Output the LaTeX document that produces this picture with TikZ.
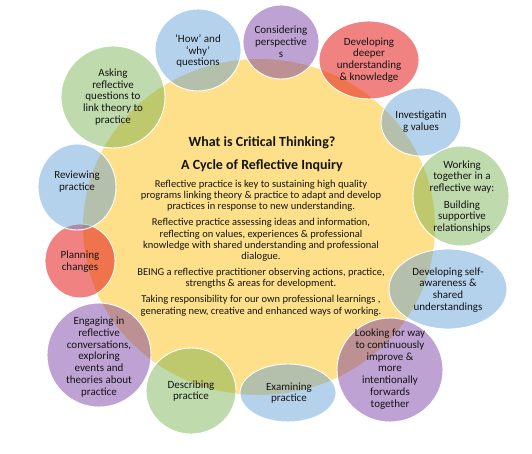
\documentclass[tikz,border=0pt]{standalone}
\usepackage{fontspec}
\setmainfont{Carlito}
\usetikzlibrary{positioning}
\definecolor{ink}    {HTML}{141414}
\definecolor{sun}    {HTML}{FEE08B}
\definecolor{sky}    {HTML}{5B9BD5}
\definecolor{leaf}   {HTML}{70AD47}
\definecolor{plum}   {HTML}{7030A0}
\definecolor{rose}   {HTML}{E31C1C}
\tikzset{
  bub/.style      ={draw=white, line width=0.9pt, fill=#1, fill opacity=0.45},
  redbub/.style   ={bub=rose, fill opacity=0.55},
  lbl/.style      ={align=center, text=ink, inner sep=0pt,
                    font=\fontsize{11}{11.8}\selectfont},
  heading/.style  ={align=center, text=ink, inner sep=0pt,
                    font=\bfseries\fontsize{14}{23}\selectfont},
  body/.style     ={align=center, text=ink, inner sep=0pt,
                    font=\fontsize{10.5}{11.3}\selectfont},
}

\begin{document}
\begin{tikzpicture}[x=1pt,y=-1pt]
  \useasboundingbox (0,0) rectangle (532,454);
  % the central disc
  \fill[sun] (259,227) ellipse [x radius=176, y radius=168];

  % bubbles round the disc
  \filldraw[bub=sky]  (198,50)  ellipse [x radius=43, y radius=41];
  \filldraw[bub=plum] (281,42)  ellipse [x radius=38, y radius=37];
  \filldraw[redbub]   (369,60)  ellipse [x radius=50, y radius=39];
  \filldraw[bub=sky]  (421,122) ellipse [x radius=40, y radius=34];
  \filldraw[bub=leaf] (461,196) ellipse [x radius=48, y radius=50];
  \filldraw[bub=sky]  (448,289) ellipse [x radius=59, y radius=40];
  \filldraw[bub=plum] (390,370) ellipse [x radius=53, y radius=52];
  \filldraw[bub=sky]  (288,393) ellipse [x radius=48, y radius=29];
  \filldraw[bub=leaf] (191,391) ellipse [x radius=45, y radius=43];
  \filldraw[bub=plum] (99,355)  ellipse [x radius=52, y radius=52];
  \filldraw[redbub]   (80,261)  ellipse [x radius=35, y radius=37];
  \filldraw[bub=sky]  (77,187)  ellipse [x radius=39, y radius=43];
  \filldraw[bub=leaf] (113,97)  ellipse [x radius=52, y radius=51];

  % texts
  \node[heading] (title) at (262,154)
    {What is Critical Thinking?\\A Cycle of Reflective Inquiry};
  \node[body] (core) at (261,248)
    {Reflective practice is key to sustaining high quality\\
     programs linking theory \& practice to adapt and develop\\
     practices in response to new understanding.\\[4.7pt]
     Reflective practice assessing ideas and information,\\
     reflecting on values, experiences \& professional\\
     knowledge with shared understanding and professional\\
     dialogue.\\[4.7pt]
     BEING a reflective practitioner observing actions, practice,\\
     strengths \& areas for development.\\[4.7pt]
     Taking responsibility for our own professional learnings ,\\
     generating new, creative and enhanced ways of working.};

  \node[lbl] (howwhy)   at (198,51)  {‘How’ and\\‘why’\\questions};
  \node[lbl] (consider) at (281,42)  {Considering\\perspective\\s};
  \node[lbl] (deeper)   at (369,60)  {Developing\\deeper\\understanding\\\& knowledge};
  \node[lbl] (values)   at (421,122) {Investigatin\\g values};
  \node[lbl] (together) at (462,197)
    {Working\\together in a\\reflective way:\\[4.5pt]Building\\supportive\\relationships};
  \node[lbl] (selfaware) at (448,290)
    {Developing self-\\awareness \&\\shared\\understandings};
  \node[lbl] (improve)  at (390,369)
    {Looking for way\\to continuously\\improve \&\\more\\intentionally\\forwards\\together};
  \node[lbl] (examine)  at (289,393) {Examining\\practice};
  \node[lbl] (describe) at (191,391) {Describing\\practice};
  \node[lbl] (engage)   at (99,357)
    {Engaging in\\reflective\\conversations,\\exploring\\events and\\theories about\\practice};
  \node[lbl] (plan)     at (80,262)  {Planning\\changes};
  \node[lbl] (review)   at (77,182)  {Reviewing\\practice};
  \node[lbl] (asking)   at (113,97)
    {Asking\\reflective\\questions to\\link theory to\\practice};
\end{tikzpicture}
\end{document}
